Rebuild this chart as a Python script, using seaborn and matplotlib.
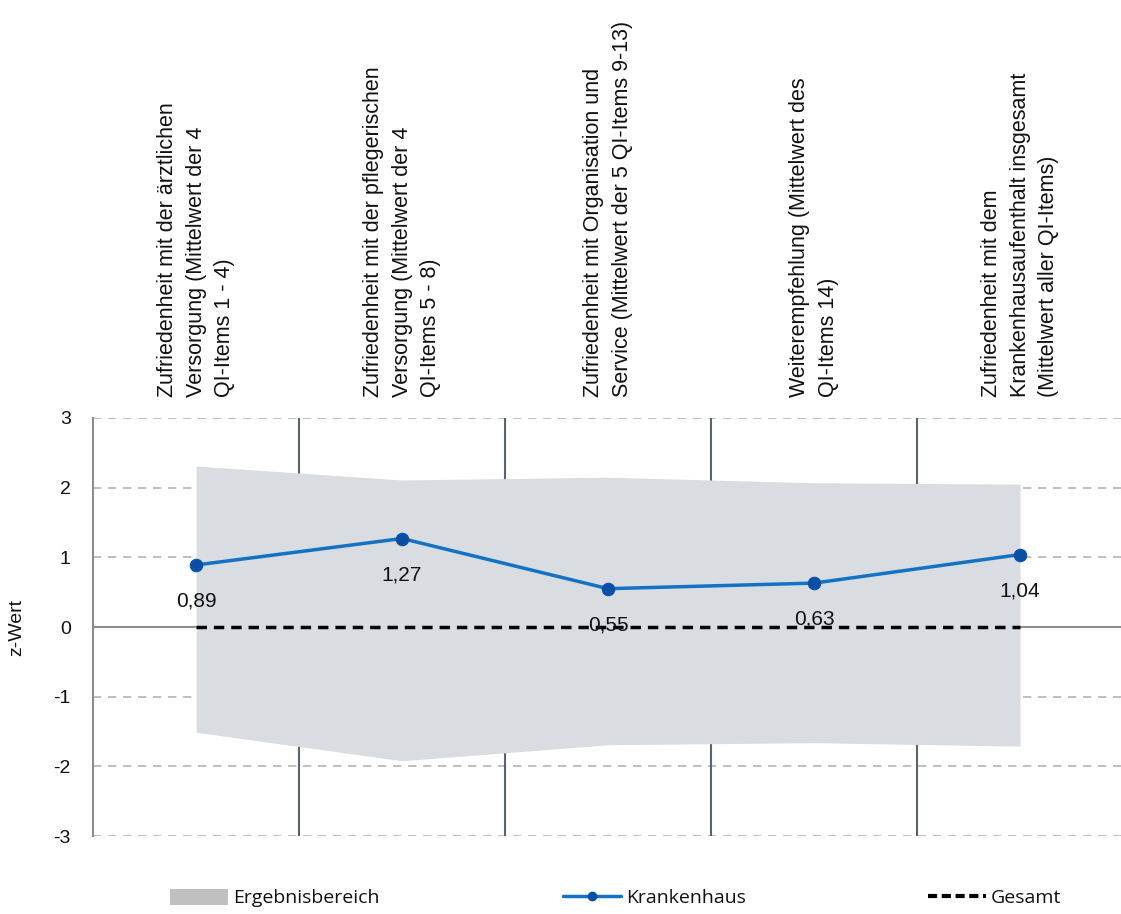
import numpy as np
import pandas as pd
import matplotlib.pyplot as plt
import seaborn as sns
from matplotlib.patches import Patch
from matplotlib.lines import Line2D

# Data
categories = [
    "Zufriedenheit mit der ärztlichen\nVersorgung (Mittelwert der 4\nQI-Items 1 - 4)",
    "Zufriedenheit mit der pflegerischen\nVersorgung (Mittelwert der 4\nQI-Items 5 - 8)",
    "Zufriedenheit mit Organisation und\nService (Mittelwert der 5 QI-Items 9-13)",
    "Weiterempfehlung (Mittelwert des\nQI-Items 14)",
    "Zufriedenheit mit dem\nKrankenhausaufenthalt insgesamt\n(Mittelwert aller QI-Items)",
]
krankenhaus = [0.89, 1.27, 0.55, 0.63, 1.04]
labels = ["0,89", "1,27", "0,55", "0,63", "1,04"]
band_upper = [2.31, 2.11, 2.15, 2.07, 2.05]
band_lower = [-1.51, -1.92, -1.69, -1.66, -1.71]
gesamt = [0, 0, 0, 0, 0]

df = pd.DataFrame({"pos": range(len(categories)), "z": krankenhaus})

sns.set_style("white")
plt.rcParams['font.family'] = ['Liberation Sans', 'DejaVu Sans']
plt.rcParams['text.color'] = '#111111'
plt.rcParams['axes.labelcolor'] = '#111111'
plt.rcParams['ytick.color'] = '#111111'

fig = plt.figure(figsize=(11.21, 9.14), dpi=100)
ax = fig.add_axes([0.083, 0.0853, 0.917, 0.4574])

# Grid lines
for y in [-3, -2, -1, 1, 2, 3]:
    ax.axhline(y, color="#b4b4b4", lw=1.2, ls=(0, (5, 4)), zorder=0)
ax.axhline(0, color="#8c8c8c", lw=1.5, zorder=1)
for x in [0.5, 1.5, 2.5, 3.5]:
    ax.axvline(x, color="#5c636b", lw=1.5, zorder=0)

# Ergebnisbereich
ax.fill_between(df["pos"], band_lower, band_upper, color="#d9dce0", lw=0, zorder=2)

# Gesamt
ax.plot(df["pos"], gesamt, color="black", lw=2.5, ls=(0, (3, 2)), zorder=3)

# Krankenhaus
sns.lineplot(data=df, x="pos", y="z", ax=ax, color="#1372c4", lw=2.5,
             marker="o", markersize=9, markerfacecolor="#0a4fa6",
             markeredgecolor="#0a4fa6", zorder=4)

for i, v in enumerate(krankenhaus):
    ax.text(i, v - 0.52, labels[i], ha="center", va="center", fontsize=15, zorder=5)

# Category labels on top
for i, c in enumerate(categories):
    ax.text(i, 3.3, c, rotation=90, ha="center", va="bottom", fontsize=15.5,
            multialignment="left", linespacing=1.45)

ax.set_xlim(-0.5, 4.49)
ax.set_ylim(-3, 3)
ax.set_yticks([-3, -2, -1, 0, 1, 2, 3])
ax.set_yticklabels(["-3", "-2", "-1", "0", "1", "2", "3"], fontsize=14)
ax.set_xticks([])
ax.set_xlabel("")
ax.set_ylabel("z-Wert", fontsize=14, labelpad=20)
ax.tick_params(axis="y", length=0, pad=16)
for s in ["top", "right", "bottom"]:
    ax.spines[s].set_visible(False)
ax.spines["left"].set_color("#8c8c8c")
ax.spines["left"].set_linewidth(1.5)

# Legend, three separate entries
legend_font = {"family": "Open Sans", "size": 14}
entries = [
    (Patch(facecolor="#c0c0c0", edgecolor="none", label="Ergebnisbereich"), 170),
    (Line2D([], [], color="#1372c4", lw=2.5, marker="o", markersize=6,
            markerfacecolor="#0a4fa6", markeredgecolor="#0a4fa6", label="Krankenhaus"), 563),
    (Line2D([], [], color="black", lw=3, ls=(0, (2.2, 1.1)), label="Gesamt"), 928),
]
for h, xpix in entries:
    fig.legend(handles=[h], loc="center left", bbox_to_anchor=(xpix / 1121, 0.0175),
               frameon=False, prop=legend_font, handlelength=3.0, handleheight=0.9,
               handletextpad=0.25, borderpad=0, borderaxespad=0)

plt.savefig("out.png", dpi=100)
